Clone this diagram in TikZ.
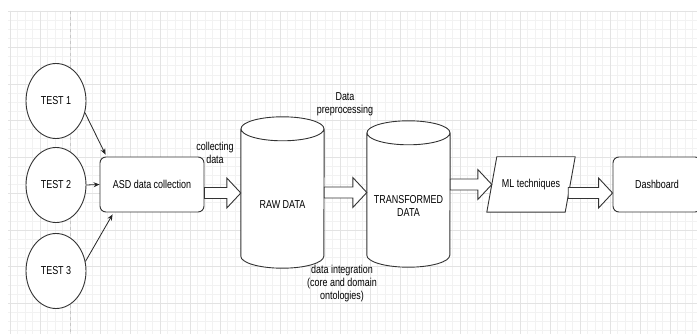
\documentclass[tikz,border=0pt]{standalone}
\usepackage{fontspec}
\setmainfont{Liberation Sans}[FakeStretch=0.78]
\usetikzlibrary{calc,shapes.geometric,arrows.meta}
\tikzset{
	box/.style={draw=black!80,line width=0.9pt,fill=white,rounded corners=6pt,minimum width=104,minimum height=55,inner sep=0pt},
	test/.style={ellipse,draw=black!80,line width=0.9pt,fill=white,minimum width=60,minimum height=75,inner sep=0pt},
	drumbody/.style={minimum width=83,inner sep=0pt,align=center},
	fatarr/.style={draw=black!80,line width=0.9pt,fill=white,line join=miter},
	thin/.style={draw=black!85,line width=0.8pt,-{Stealth[length=6pt,width=5pt]}},
	gridminor/.style={gray!10,line width=0.5pt},
	gridmajor/.style={gray!22,line width=0.6pt}
}
\newcommand{\fatarrow}[2]{\draw[fatarr] let \p1=(#1),\p2=(#2) in (\x1,\y1-5.5pt)--(\x2-14pt,\y1-5.5pt)--(\x2-14pt,\y1-15pt)--(\x2,\y1)--(\x2-14pt,\y1+15pt)--(\x2-14pt,\y1+5.5pt)--(\x1,\y1+5.5pt)--cycle;}
\newcommand{\drum}[1]{\draw[fill=white,draw=black!80,line width=0.9pt] ($(#1.north west)+(0,-12)$)--($(#1.south west)+(0,-12)$) arc[start angle=180,end angle=360,x radius=41.5pt,y radius=12pt]--($(#1.north east)+(0,-12)$) ($(#1.north)+(0,-12)$) ellipse[x radius=41.5pt,y radius=12pt];}
\begin{document}
\begin{tikzpicture}[x=1pt,y=-1pt,font=\fontsize{11.5}{13}\selectfont]
	\clip (0,0) rectangle (697,334);
	\fill[white] (0,0) rectangle (697,334);
	\foreach \x in {10,17.5,...,697} \draw[gridminor] (\x,11)--(\x,334);
	\foreach \y in {11,20.125,...,334} \draw[gridminor] (8,\y)--(697,\y);
	\foreach \x in {10,40,...,697} \draw[gridmajor] (\x,11)--(\x,334);
	\foreach \y in {11,47.5,...,334} \draw[gridmajor] (8,\y)--(697,\y);
	\draw[gray!45,dashed,line width=0.6pt] (70,11)--(70,334);

	\node[test] (test1) at (56,101) {TEST 1};
	\node[test] (test2) at (56,185) {TEST 2};
	\node[test] (test3) at (56,271) {TEST 3};
	\node[box] (asd) at (152,184.5) {ASD data collection};
	\node[drumbody,minimum height=127] (raw) at (282.5,204.5) {};
	\node[drumbody,minimum height=122] (trans) at (408.5,206) {};
	\node[minimum width=78,minimum height=55,inner sep=0pt] (ml) at (531,184.5) {};
	\node[box,minimum width=88] (dash) at (657,184.5) {Dashboard};

	\drum{raw}
	\drum{trans}
	\draw[fill=white,draw=black!80,line width=0.9pt] ([xshift=-5pt]ml.south west)--([xshift=5pt]ml.north west)--([xshift=5pt]ml.north east)--([xshift=-5pt]ml.south east)--cycle;
	\node at (raw) {RAW DATA};
	\node[align=center] at (trans) {TRANSFORMED\\DATA};
	\node at (ml) {ML techniques};

	\draw[thin] (test1.-22)--([xshift=6pt,yshift=2pt]asd.north west);
	\draw[thin] (test2.east)--(asd.west);
	\draw[thin] (test3.18)--([xshift=13pt,yshift=-2pt]asd.south west);

	\fatarrow{$(asd.east)+(0,8.5)$}{raw.west}
	\fatarrow{$(raw.east)+(0,-12)$}{trans.west}
	\fatarrow{trans.east |- ml.west}{ml.west}
	\fatarrow{$(ml.east)+(-2,8.5)$}{dash.west}

	\node[align=center,inner sep=0pt] (lcollect) at (215,152.5) {collecting\\data};
	\node[align=center,inner sep=0pt] (lprep) at (345,104.5) {Data\\preprocessing};
	\node[align=center,inner sep=0pt] (linteg) at (342,284) {data integration\\(core and domain\\ontologies)};
\end{tikzpicture}
\end{document}
